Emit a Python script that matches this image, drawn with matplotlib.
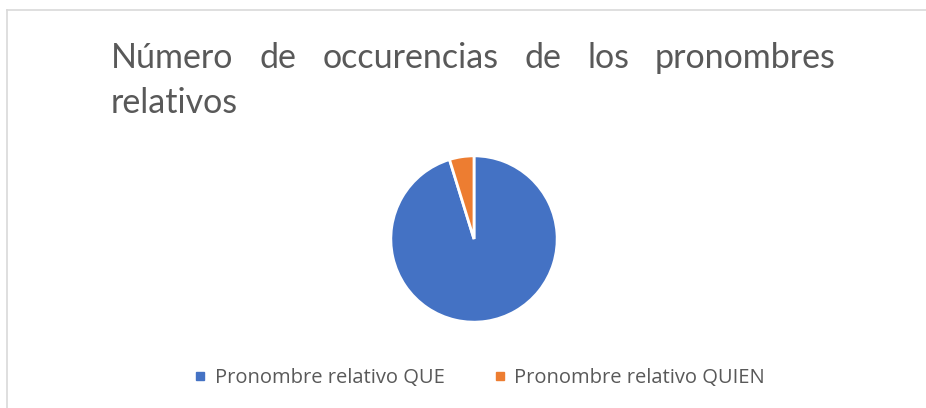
import matplotlib.pyplot as plt
from matplotlib.lines import Line2D

# Datos
categorias = ['Pronombre relativo QUE', 'Pronombre relativo QUIEN']
ocurrencias = [100, 5]
colores = ['#4472C4', '#ED7D31']
titulo_linea1 = 'Número de occurencias de los pronombres'
titulo_linea2 = 'relativos'

W, H = 926, 408
fig = plt.figure(figsize=(W / 100, H / 100), dpi=100)

# Marco gris (solo arriba e izquierda)
fig.add_artist(Line2D([7 / W, 1], [1 - 10 / H, 1 - 10 / H], color='#D9D9D9', lw=1.2))
fig.add_artist(Line2D([7 / W, 7 / W], [0, 1 - 10 / H], color='#D9D9D9', lw=1.2))

# Título justificado
fuente_titulo = dict(family=['Lato', 'DejaVu Sans'], fontsize=24.5, color='#595959')
x_izq, x_der = 111 / W, 836 / W
y1, y2 = 1 - 68 / H, 1 - 113 / H
palabras = titulo_linea1.split()
fig.canvas.draw()
renderer = fig.canvas.get_renderer()
textos = [fig.text(0, y1, p, ha='left', va='baseline', **fuente_titulo) for p in palabras]
anchos = [t.get_window_extent(renderer).width / W for t in textos]
hueco = (x_der - x_izq - sum(anchos)) / (len(palabras) - 1)
x = x_izq
for t, a in zip(textos, anchos):
    t.set_x(x)
    x += a + hueco
fig.text(x_izq, y2, titulo_linea2, ha='left', va='baseline', **fuente_titulo)

# Gráfico circular
radio = 84
cx, cy = 474, 239
ax = fig.add_axes([(cx - radio) / W, (H - cy - radio) / H, 2 * radio / W, 2 * radio / H])
ax.pie(ocurrencias, colors=colores, startangle=90, counterclock=False,
       wedgeprops=dict(edgecolor='white', linewidth=2))
ax.set_xlim(-1.01, 1.01)
ax.set_ylim(-1.01, 1.01)

# Leyenda
handles = [Line2D([], [], marker='s', linestyle='none', markersize=5.5,
                  markerfacecolor=c, markeredgecolor=c) for c in colores]
fig.legend(handles, categorias, loc='center', bbox_to_anchor=(480 / W, 1 - 378 / H),
           ncol=2, frameon=False, handlelength=0.5, handletextpad=0.45, columnspacing=2.5,
           prop=dict(family=['Open Sans', 'DejaVu Sans'], size=14.5), labelcolor='#595959')

fig.savefig('out.png', dpi=100, facecolor='white')
